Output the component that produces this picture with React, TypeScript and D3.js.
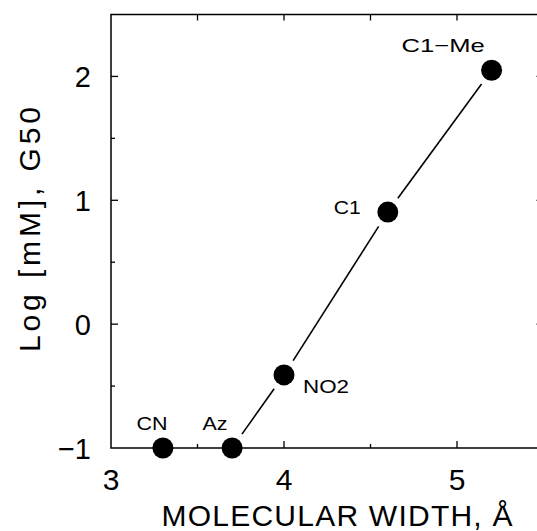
import React from "react";
import * as d3 from "d3";

const compounds = ["CN", "Az", "NO2", "C1", "C1\u2212Me"];
const widths = [3.3, 3.7, 4.0, 4.6, 5.2];
const logG50 = [-1, -1, -0.41, 0.905, 2.05];
const lineFrom = 1; // fitted line starts at Az
const xMajorTicks = [3, 4, 5];
const xMinorTicks = [3.5, 4.5];
const xTopTicks = [3.5, 4, 4.5, 5];
const yMajorTicks = [-1, 0, 1, 2];
const yMinorTicks = [-0.5, 0.5, 1.5];

// label placement (style)
const labelStyle = [
  { dx: -11, dy: -18, anchor: "middle", len: 31 },
  { dx: -17, dy: -18, anchor: "middle", len: 25 },
  { dx: 19, dy: 18, anchor: "start", len: 46 },
  { dx: -27, dy: 2, anchor: "end", len: 27 },
  { dx: -90, dy: -18, anchor: "start", len: 83 },
];

const W = 537;
const H = 531;
const FONT = "'Liberation Sans', Arial, Helvetica, sans-serif";

export default function App() {
  const x = d3.scaleLinear().domain([3, 5.5]).range([111, 543.5]);
  const y = d3.scaleLinear().domain([-1, 2.5]).range([448, 14.5]);
  const x0 = x(3), x1 = x(5.5), y0 = y(-1), y1 = y(2.5);
  const pts = widths.map((w, i) => ({ px: x(w), py: y(logG50[i]), name: compounds[i] }));
  const gap = 17;
  const segs: { a: [number, number]; b: [number, number] }[] = [];
  for (let i = lineFrom; i < pts.length - 1; i++) {
    const p = pts[i], q = pts[i + 1];
    const dx = q.px - p.px, dy = q.py - p.py;
    const L = Math.hypot(dx, dy);
    const ux = dx / L, uy = dy / L;
    segs.push({ a: [p.px + ux * gap, p.py + uy * gap], b: [q.px - ux * gap, q.py - uy * gap] });
  }
  const majorLen = 7, minorLen = 4;
  return (
    <svg width={W} height={H} style={{ position: "absolute", left: 0, top: 0, background: "#fff" }} fontFamily={FONT}>
      <rect x={0} y={0} width={W} height={H} fill="#fff" />
      <rect x={x0} y={y1} width={x1 - x0} height={y0 - y1} fill="none" stroke="#000" strokeWidth={1.5} />
      {xMajorTicks.filter((t) => t > 3).map((t) => (
        <line key={"xb" + t} x1={x(t)} x2={x(t)} y1={y0} y2={y0 - majorLen} stroke="#000" strokeWidth={1.3} />
      ))}
      {xMinorTicks.map((t) => (
        <line key={"xm" + t} x1={x(t)} x2={x(t)} y1={y0} y2={y0 - minorLen} stroke="#000" strokeWidth={1.3} />
      ))}
      {xTopTicks.map((t) => (
        <line key={"xt" + t} x1={x(t)} x2={x(t)} y1={y1} y2={y1 + 6} stroke="#000" strokeWidth={1.3} />
      ))}
      {yMajorTicks.filter((t) => t > -1).map((t) => (
        <g key={"yl" + t}>
          <line x1={x0} x2={x0 + majorLen} y1={y(t)} y2={y(t)} stroke="#000" strokeWidth={1.3} />
          <line x1={x1} x2={x1 - majorLen} y1={y(t)} y2={y(t)} stroke="#000" strokeWidth={1.3} />
        </g>
      ))}
      {yMinorTicks.map((t) => (
        <g key={"ym" + t}>
          <line x1={x0} x2={x0 + minorLen} y1={y(t)} y2={y(t)} stroke="#000" strokeWidth={1.3} />
          <line x1={x1} x2={x1 - minorLen} y1={y(t)} y2={y(t)} stroke="#000" strokeWidth={1.3} />
        </g>
      ))}
      {xMajorTicks.map((t) => (
        <text key={"xlab" + t} x={x(t)} y={490} textAnchor="middle" fontSize={30} fill="#000">
          {t}
        </text>
      ))}
      {yMajorTicks.map((t) => (
        <text key={"ylab" + t} x={91} y={y(t) + 10.5} textAnchor="end" fontSize={29} fill="#000">
          {t < 0 ? "\u2212" + Math.abs(t) : t}
        </text>
      ))}
      <text x={337} y={526} textAnchor="middle" fontSize={30} fill="#000" textLength={351} lengthAdjust="spacing">
        MOLECULAR WIDTH, Å
      </text>
      <text
        transform={`translate(40,229.5) rotate(-90)`}
        textAnchor="middle"
        fontSize={30}
        fill="#000"
        textLength={245}
        lengthAdjust="spacing"
      >
        Log [mM], G50
      </text>
      {segs.map((s, i) => (
        <line key={"seg" + i} x1={s.a[0]} y1={s.a[1]} x2={s.b[0]} y2={s.b[1]} stroke="#000" strokeWidth={1.6} />
      ))}
      {pts.map((p, i) => (
        <circle key={"pt" + i} cx={p.px} cy={p.py} r={10.5} fill="#000" />
      ))}
      {pts.map((p, i) => {
        const s = labelStyle[i];
        return (
          <text
            key={"lab" + i}
            x={p.px + s.dx}
            y={p.py + s.dy}
            textAnchor={s.anchor as any}
            fontSize={19}
            fill="#000"
            textLength={s.len}
            lengthAdjust="spacingAndGlyphs"
          >
            {p.name}
          </text>
        );
      })}
    </svg>
  );
}
